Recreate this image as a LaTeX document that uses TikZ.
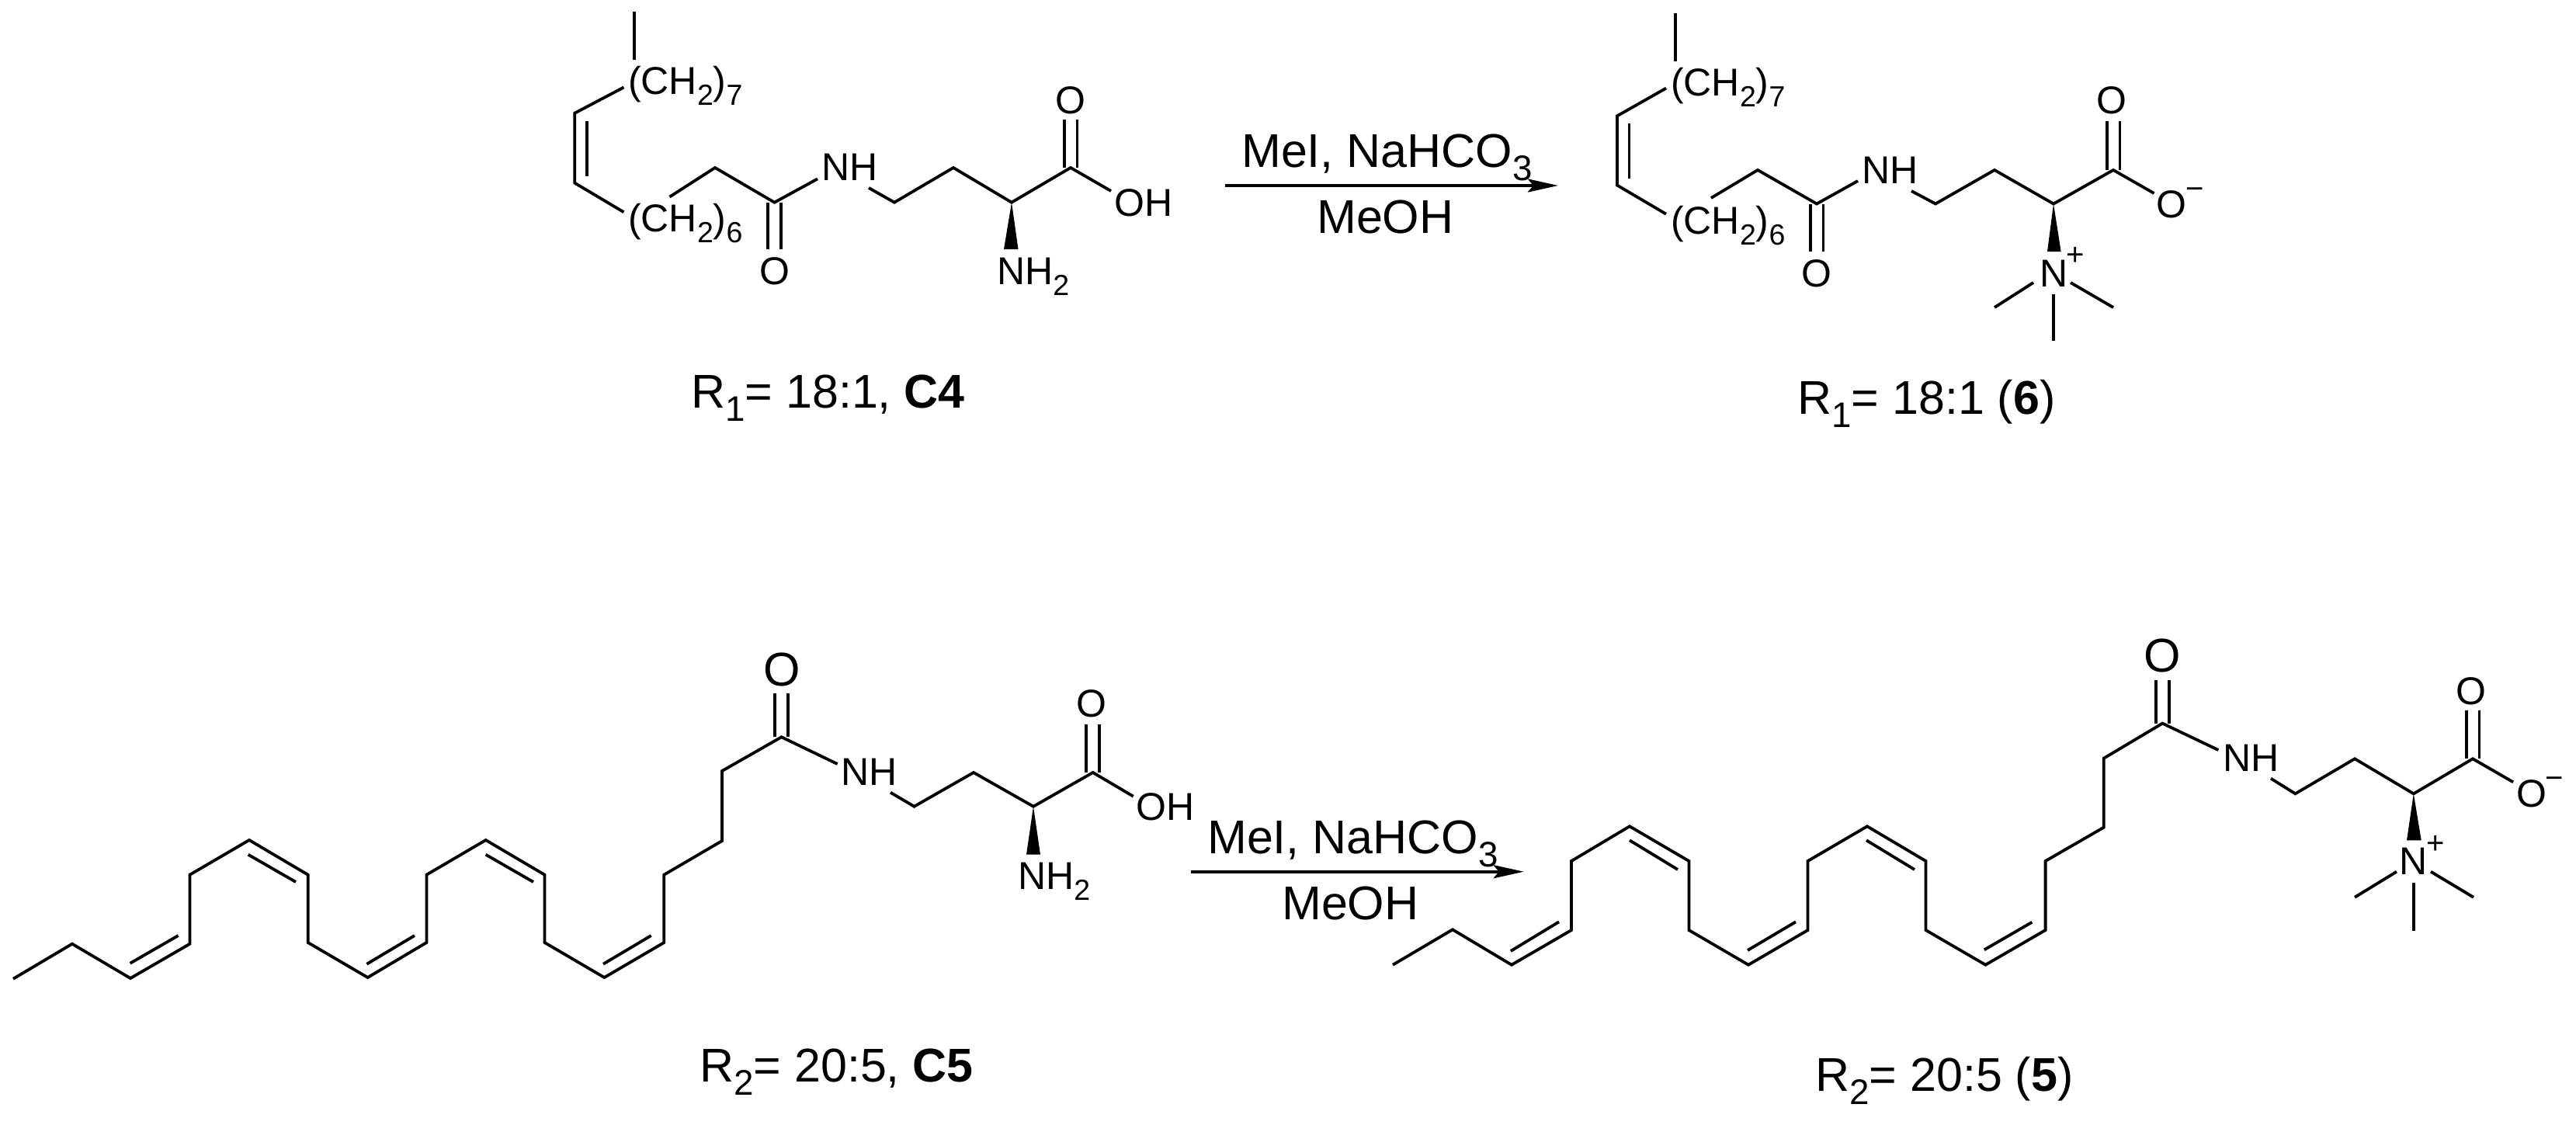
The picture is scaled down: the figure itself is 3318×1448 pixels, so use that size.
\documentclass[tikz,border=0pt]{standalone}
\usepackage{graphicx}
\usepackage{fontspec}
\setmainfont{Liberation Sans}
\usetikzlibrary{arrows.meta}
\newcommand{\subtxt}[1]{\raisebox{-.29em}{\scalebox{.75}{#1}}}
\newcommand{\atomfont}{\fontsize{50}{50}\selectfont}
\newcommand{\bigfont}{\fontsize{61}{61}\selectfont}
\newcommand{\chargefont}{\fontsize{40}{40}\selectfont}

\begin{document}
\begin{tikzpicture}[x=1pt,y=-1pt]
\tikzstyle{bond}=[line width=3.8pt]
\tikzstyle{dblbond}=[line width=3.8pt,double,double distance=13pt]
\tikzstyle{rxnarrow}=[line width=4pt,-{Stealth[length=39pt,width=17pt,inset=7pt]}]
\tikzstyle{atom}=[inner sep=0pt,font=\atomfont,anchor=base]
\tikzstyle{group}=[inner sep=0pt,font=\atomfont,anchor=base west]
\tikzstyle{charge}=[inner sep=0pt,font=\chargefont,anchor=base]
\tikzstyle{caption}=[inner sep=0pt,font=\bigfont,anchor=base west]
\useasboundingbox (0,0) rectangle (3318,1448);

\foreach \n/\x/\y in {
  a1/816.6/15, a2/816.6/77, a3/803.4/112.5, a4/740.3/145.7, a5/740.3/235.7, a6/803.4/273.2,
  a7/862.5/253.6, a8/921/216, a9/997.5/260.7, a10/1053/230.4, a11/1119/242, a12/1152/260.7,
  a13/1228/216, a14/1303/260.7, a15/1379/216, a16/1431/246, ao1/997.5/321, ao2/1379/154,
  ai1/756.3/156.4, ai2/756.3/226.8,
  b1/2158/17, b2/2158/79, b3/2146/113.6, b4/2083/149.3, b5/2083/238.6, b6/2146/275.7,
  b7/2204/255, b8/2264/219, b9/2340/262.5, b10/2393/233, b11/2462/246, b12/2493/262.5,
  b13/2569/219, b14/2645/262.5, b15/2722/219, b16/2774.5/249, bo1/2340/324, bo2/2722/156,
  bi1/2098.5/159, bi2/2098.5/230,
  bm1/2619/364, bm2/2569/396, bm3/2667/364, bm4/2722/396, bm5/2645/378.6, bm6/2645/439,
  c1/17/1260.7, c2/93/1215.7, c3/168/1260, c4/244.5/1215.7, c5/244.5/1126.7, c6/321/1082,
  c7/396.7/1126.7, c8/396.7/1214, c9/473.6/1259, c10/549.4/1214, c11/549.4/1126.7, c12/625.7/1082,
  c13/701.5/1126.7, c14/701.5/1214, c15/778.4/1259, c16/855.3/1214, c17/855.3/1126.7, c18/930/1083,
  c19/930/993, c20/1006.6/949.3, c21/1078.6/984, c22/1147/1020.7, c23/1177.5/1038.7, c24/1254/995,
  c25/1331/1038.7, c26/1407.7/995, c27/1459.7/1025.7, co1/1006.6/893, co2/1407.7/932.7,
  ci1/167.6/1240.7, ci2/229.6/1205, ci3/319.7/1100.7, ci4/381/1136, ci5/472.4/1241.7, ci6/534/1205,
  ci7/625.7/1100.7, ci8/687/1136, ci9/777/1241.7, ci10/838.7/1205,
  d1/1794/1242.7, d2/1871/1197.3, d3/1947/1242.7, d4/2024/1198, d5/2024/1109, d6/2099/1064.3,
  d7/2175.4/1109, d8/2175.4/1198, d9/2252/1242.7, d10/2328.5/1198, d11/2328.5/1109, d12/2405/1064.3,
  d13/2480.5/1109, d14/2480.5/1198, d15/2557.4/1242.7, d16/2634.6/1198, d17/2634.6/1109, d18/2709.7/1065.7,
  d19/2709.7/976.7, d20/2785.3/931.7, d21/2857.3/966, d22/2925/1002.7, d23/2956.4/1022.3, d24/3033/977.3,
  d25/3108.8/1022.3, d26/3185/977.3, d27/3237/1007.3, do1/2785.3/876, do2/3185/915,
  di1/1945.8/1225, di2/2008/1187.3, di3/2099/1082.3, di4/2161/1120, di5/2251/1224, di6/2313/1187.3,
  di7/2404/1082.3, di8/2466/1120, di9/2555.8/1223.3, di10/2617.4/1187.7,
  dm1/3086.9/1122.7, dm2/3033/1155.7, dm3/3131/1122.7, dm4/3186/1155.7, dm5/3108.8/1136.7, dm6/3108.8/1199,
  r1s/1578/239, r1e/2007/239, r2s/1534/1122.7, r2e/1962.7/1122.7}
  \coordinate (\n) at (\x,\y);

\foreach \u/\v in {a9/ao1,a15/ao2,b9/bo1,b15/bo2,c20/co1,c26/co2,d20/do1,d26/do2}
  \draw[dblbond] (\u) -- (\v);

\draw[bond] (a1) -- (a2);
\draw[bond] (a3) -- (a4) -- (a5) -- (a6);
\draw[bond] (a7) -- (a8) -- (a9) -- (a10);
\draw[bond] (a11) -- (a12) -- (a13) -- (a14) -- (a15) -- (a16);
\draw[bond] (b1) -- (b2);
\draw[bond] (b3) -- (b4) -- (b5) -- (b6);
\draw[bond] (b7) -- (b8) -- (b9) -- (b10);
\draw[bond] (b11) -- (b12) -- (b13) -- (b14) -- (b15) -- (b16);
\draw[bond] (c1) -- (c2) -- (c3) -- (c4) -- (c5) -- (c6) -- (c7) -- (c8) -- (c9) -- (c10) -- (c11)
  -- (c12) -- (c13) -- (c14) -- (c15) -- (c16) -- (c17) -- (c18) -- (c19) -- (c20) -- (c21);
\draw[bond] (c22) -- (c23) -- (c24) -- (c25) -- (c26) -- (c27);
\draw[bond] (d1) -- (d2) -- (d3) -- (d4) -- (d5) -- (d6) -- (d7) -- (d8) -- (d9) -- (d10) -- (d11)
  -- (d12) -- (d13) -- (d14) -- (d15) -- (d16) -- (d17) -- (d18) -- (d19) -- (d20) -- (d21);
\draw[bond] (d22) -- (d23) -- (d24) -- (d25) -- (d26) -- (d27);

\foreach \u/\v in {ai1/ai2,bi1/bi2,ci1/ci2,ci3/ci4,ci5/ci6,ci7/ci8,ci9/ci10,
  di1/di2,di3/di4,di5/di6,di7/di8,di9/di10,bm1/bm2,bm3/bm4,bm5/bm6,dm1/dm2,dm3/dm4,dm5/dm6}
  \draw[bond] (\u) -- (\v);

\fill (a14) -- (1293,321) -- (1311.5,321) -- cycle;
\fill (b14) -- (2637,324) -- (2654.6,324) -- cycle;
\fill (c25) -- (1322,1100.7) -- (1340,1100.7) -- cycle;
\fill (d25) -- (3100,1082.3) -- (3118.7,1082.3) -- cycle;

\node[group] (ach7) at (809,121) {(CH\subtxt{2})\subtxt{7}};
\node[group] (ach6) at (809,298) {(CH\subtxt{2})\subtxt{6}};
\node[atom] (aoa) at (997.5,366) {O};
\node[group] (anh) at (1058,232) {NH};
\node[atom] (aoc) at (1379,146) {O};
\node[group] (aoh) at (1435,278) {OH};
\node[group] (anh2) at (1284,366) {NH\subtxt{2}};

\node[group] (bch7) at (2152,123) {(CH\subtxt{2})\subtxt{7}};
\node[group] (bch6) at (2152,301) {(CH\subtxt{2})\subtxt{6}};
\node[atom] (boa) at (2340,369) {O};
\node[group] (bnh) at (2398,236) {NH};
\node[atom] (boc) at (2720,146) {O};
\node[atom] (bom) at (2797,280) {O};
\node[charge] (bmin) at (2827,256) {−};
\node[atom] (bn) at (2646,369) {N};
\node[charge] (bpl) at (2673.5,341) {+};

\node[atom,font=\bigfont] (coa) at (1007,883) {O};
\node[group] (cnh) at (1083,1011.7) {NH};
\node[atom] (coc) at (1406,923) {O};
\node[group] (coh) at (1463,1056) {OH};
\node[group] (cnh2) at (1311,1145) {NH\subtxt{2}};

\node[atom,font=\bigfont] (doa) at (2785,865.7) {O};
\node[group] (dnh) at (2863,993) {NH};
\node[atom] (doc) at (3183,907.3) {O};
\node[atom] (dom) at (3261,1039) {O};
\node[charge] (dmin) at (3290.5,1015) {−};
\node[atom] (dn) at (3108.8,1126.7) {N};
\node[charge] (dpl) at (3137.5,1099) {+};

\draw[rxnarrow] (r1s) -- (r1e);
\node[caption] (r1top) at (1599,215) {MeI, NaHCO\subtxt{3}};
\node[caption] (r1bot) at (1696,300.7) {MeOH};
\draw[rxnarrow] (r2s) -- (r2e);
\node[caption] (r2top) at (1555,1099) {MeI, NaHCO\subtxt{3}};
\node[caption] (r2bot) at (1651,1184.3) {MeOH};

\node[caption] (lab1) at (890,525) {R\subtxt{1}= 18:1, \textbf{C4}};
\node[caption] (lab2) at (2315,533) {R\subtxt{1}= 18:1 (\textbf{6})};
\node[caption] (lab3) at (901,1393) {R\subtxt{2}= 20:5, \textbf{C5}};
\node[caption] (lab4) at (2338,1405) {R\subtxt{2}= 20:5 (\textbf{5})};
\end{tikzpicture}
\end{document}
